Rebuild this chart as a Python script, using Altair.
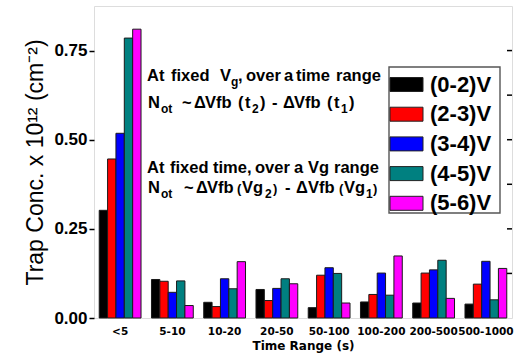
import altair as alt
import pandas as pd

# ---- data ----
groups = ["<5", "5-10", "10-20", "20-50", "50-100", "100-200", "200-500", "500-1000"]
series = ["(0-2)V", "(2-3)V", "(3-4)V", "(4-5)V", "(5-6)V"]
colors = ["#000000", "#FF0000", "#0000FF", "#008080", "#FF00FF"]
v_0_2 = [0.302, 0.108, 0.044, 0.080, 0.029, 0.045, 0.042, 0.039]
v_2_3 = [0.446, 0.103, 0.032, 0.049, 0.120, 0.066, 0.126, 0.095]
v_3_4 = [0.518, 0.072, 0.110, 0.083, 0.141, 0.126, 0.135, 0.159]
v_4_5 = [0.785, 0.104, 0.082, 0.110, 0.125, 0.064, 0.162, 0.051]
v_5_6 = [0.810, 0.035, 0.158, 0.096, 0.042, 0.174, 0.055, 0.139]
y_ticks = [0.0, 0.25, 0.5, 0.75]
right_ticks = [0.125, 0.25, 0.375, 0.5, 0.625, 0.75]

rows = []
for s, vals in zip(series, [v_0_2, v_2_3, v_3_4, v_4_5, v_5_6]):
    for g, v in zip(groups, vals):
        rows.append({"group": g, "series": s, "value": v})
df = pd.DataFrame(rows)

W, H = 418, 312
PL, PT = 94, 6
ARIAL = "Liberation Sans"
YTITLE = "Trap Conc. x 10¹² (cm⁻²)"

bars = alt.Chart(df).mark_bar(stroke="#1a1a1a", strokeWidth=1).encode(
    x=alt.X("group:N", sort=groups,
            scale=alt.Scale(paddingInner=0.2, paddingOuter=0.1),
            axis=alt.Axis(title="Time Range (s)", labelAngle=0, ticks=False, domain=False,
                          labelFont="DejaVu Sans", labelFontWeight="bold", labelFontSize=10.5,
                          labelPadding=8, labelColor="black",
                          titleFont="DejaVu Sans", titleFontWeight="bold", titleFontSize=12,
                          titlePadding=4, titleColor="black")),
    xOffset=alt.XOffset("series:N", sort=series, scale=alt.Scale(paddingInner=0, paddingOuter=0)),
    y=alt.Y("value:Q", scale=alt.Scale(domain=[0, 0.875], nice=False, zero=True),
            axis=alt.Axis(values=y_ticks, format=".2f", grid=False, domain=False,
                          title=YTITLE,
                          tickSize=5, tickColor="black", tickWidth=1.5,
                          labelFont=ARIAL, labelFontWeight="bold", labelFontSize=17,
                          labelPadding=2, labelColor="black",
                          titleFont=ARIAL, titleFontWeight="normal", titleFontSize=23,
                          titlePadding=6, titleColor="black")),
    color=alt.Color("series:N", sort=series,
                    scale=alt.Scale(domain=series, range=colors),
                    legend=alt.Legend(title=None, orient="none", legendX=295, legendY=61,
                                      symbolType="M-1.5,-0.636H1.5V0.636H-1.5Z", symbolSize=484,
                                      symbolStrokeColor="#222", symbolStrokeWidth=1, symbolOpacity=1,
                                      labelFont=ARIAL, labelFontWeight="bold", labelFontSize=22,
                                      labelColor="black", labelOffset=12, labelLimit=200,
                                      rowPadding=6.7, padding=6)),
)

rticks = alt.Chart(pd.DataFrame({"t": right_ticks})).mark_rule(color="black", strokeWidth=1.5).encode(
    y=alt.Y("t:Q", title=YTITLE),
    x=alt.value(W - 5), x2=alt.value(W),
)

# legend frame (decoration)
frame = alt.Chart(alt.Data(values=[{"k": 1}])).mark_rect(
    x=389 - PL, x2=500 - PL, y=67 - PT, y2=213 - PT,
    fill="white", fillOpacity=0, stroke="#555555", strokeWidth=1.4
).encode(opacity=alt.value(1))


def txt(s, x, y, size=16.5):
    return alt.Chart(alt.Data(values=[{"k": 1}])).mark_text(
        align="left", baseline="alphabetic", font=ARIAL, fontWeight="bold",
        fontSize=size, color="black"
    ).encode(x=alt.value(x - PL), y=alt.value(y - PT), text=alt.value(s))


B = 16.5
S = 12
segs = [
    # line 1
    ("At", 147, 81, B), ("fixed", 171, 81, B), ("V", 220, 81, B), ("g", 231, 86, S),
    (",", 238, 81, B), ("over", 246, 81, B), ("a", 284, 81, B), ("time", 296, 81, B),
    ("range", 336, 81, B),
    # line 2
    ("N", 148, 108, B), ("ot", 161, 113, S), ("~", 182, 108, B), ("Δ", 194, 108, B),
    ("Vfb", 205, 108, B), ("(", 238, 108, B), ("t", 245, 108, B), ("2", 252, 113, S),
    (")", 260, 108, B), ("-", 272, 108, B), ("Δ", 283, 108, B), ("Vfb", 294, 108, B),
    ("(", 327, 108, B), ("t", 334, 108, B), ("1", 341, 113, S), (")", 349, 108, B),
    # line 3
    ("At", 147, 173, B), ("fixed", 170, 173, B), ("time,", 213, 173, B), ("over", 255, 173, B),
    ("a", 294, 173, B), ("Vg", 308, 173, B), ("range", 334, 173, B),
    # line 4
    ("N", 148, 193, B), ("ot", 161, 198, S), ("~", 184, 193, B), ("Δ", 196, 193, B),
    ("Vfb", 207, 193, B), ("(", 237, 193, 13), ("Vg", 242, 193, B), ("2", 265, 198, S),
    (")", 273, 193, 13), ("-", 285, 193, B), ("Δ", 296, 193, B), ("Vfb", 308, 193, B),
    ("(", 339, 193, 13), ("Vg", 344, 193, B), ("1", 366, 198, S), (")", 373, 193, 13),
]
texts = [txt(*s) for s in segs]

chart = alt.layer(bars, rticks, frame, *texts).properties(
    width=W, height=H,
    padding={"left": PL, "top": PT, "right": 523 - PL - W, "bottom": 364 - PT - H},
    autosize=alt.AutoSizeParams(type="none"),
).configure_view(stroke="black", strokeWidth=1.5).configure(background="white")

chart.save("out.html", embed_options={"renderer": "svg", "actions": False})
